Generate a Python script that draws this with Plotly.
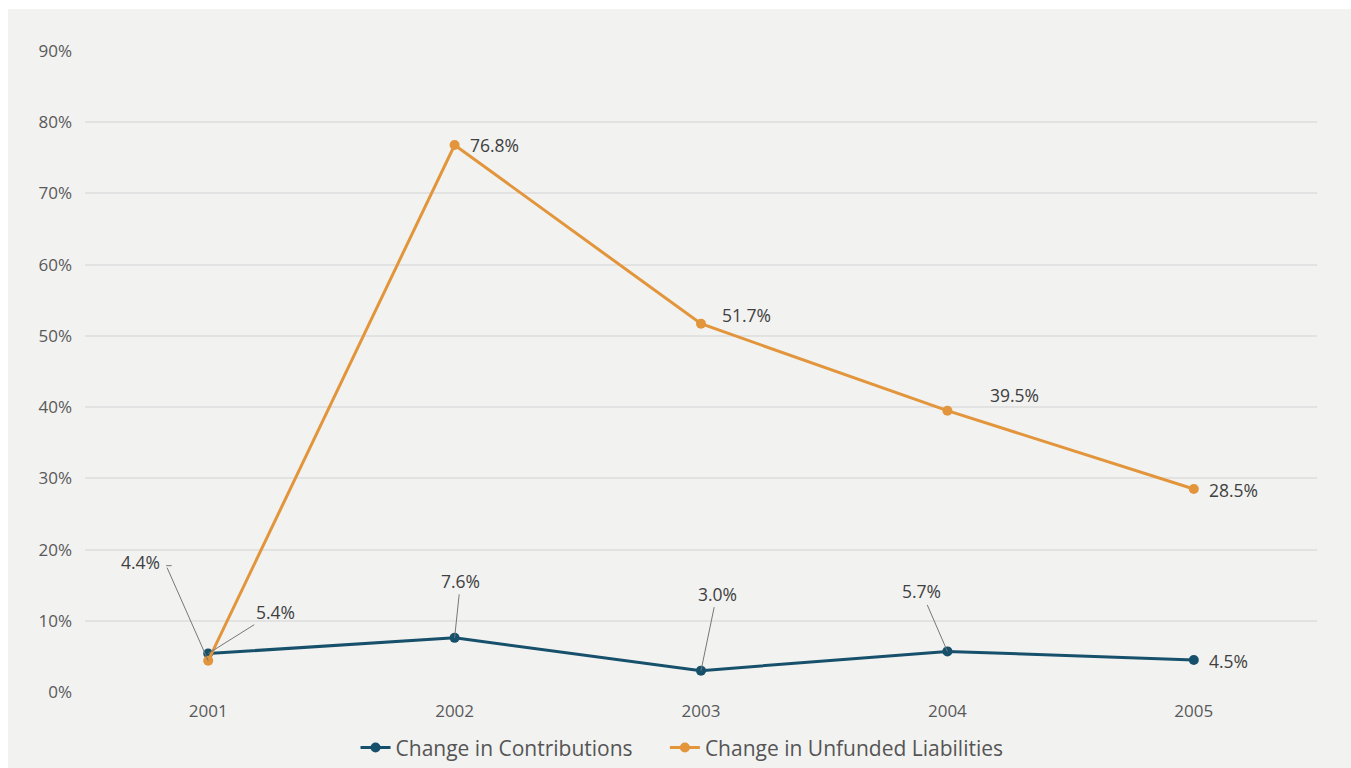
import plotly.graph_objects as go

years = ["2001", "2002", "2003", "2004", "2005"]
contributions = [5.4, 7.6, 3.0, 5.7, 4.5]
unfunded = [4.4, 76.8, 51.7, 39.5, 28.5]
y_ticks = [0, 10, 20, 30, 40, 50, 60, 70, 80, 90]
y_tick_labels = [f"{v}%" for v in y_ticks]
series_names = ["Change in Contributions", "Change in Unfunded Liabilities"]

BLUE = "#17506b"
ORANGE = "#e2953b"
BG = "#f2f2f1"
FONT = "'Open Sans', Lato, sans-serif"
GAP = "\u00a0" * 5  # extra spacing between legend entries

fig = go.Figure()
fig.add_trace(go.Scatter(
    x=years, y=contributions, name=series_names[0] + GAP,
    mode="lines+markers", line=dict(color=BLUE, width=3),
    marker=dict(size=10, color=BLUE), cliponaxis=False))
fig.add_trace(go.Scatter(
    x=years, y=unfunded, name=series_names[1],
    mode="lines+markers", line=dict(color=ORANGE, width=3),
    marker=dict(size=10, color=ORANGE), cliponaxis=False))

lab_font = dict(family=FONT, size=17.5, color="#404040")
LEAD = "#777777"

# labels to the right / above-right without leaders (xshift, yshift in px)
plain = [
    (1, unfunded[1], 13, 0),
    (2, unfunded[2], 19, 9),
    (3, unfunded[3], 41, 16),
    (4, unfunded[4], 13, -1),
    (4, contributions[4], 13, -1),
]
for i, v, xs, ys in plain:
    fig.add_annotation(x=i, y=v, xref="x", yref="y", text=f"{v:.1f}%",
                       showarrow=False, xanchor="left", yanchor="middle",
                       xshift=xs, yshift=ys, font=lab_font)

# labels with leader lines (ax, ay in px)
leaders = [
    (0, contributions[0], 67, -42),
    (1, contributions[1], 6, -57),
    (2, contributions[2], 16, -77),
    (3, contributions[3], -26, -60),
]
for i, v, ax, ay in leaders:
    fig.add_annotation(x=i, y=v, xref="x", yref="y", text=f"{v:.1f}%",
                       showarrow=True, arrowhead=0, arrowwidth=1,
                       arrowcolor=LEAD, ax=ax, ay=ay, font=lab_font, standoff=0)

# 4.4% with elbow leader
fig.add_annotation(x=0, y=unfunded[0], xref="x", yref="y", text=" ",
                   showarrow=True, arrowhead=0, arrowwidth=1,
                   arrowcolor=LEAD, ax=-42, ay=-95, font=dict(size=1))
fig.add_annotation(x=0, y=unfunded[0], xref="x", yref="y", text=" ",
                   showarrow=True, arrowhead=0, arrowwidth=1,
                   arrowcolor=LEAD, xshift=-42, yshift=95, ax=7, ay=0,
                   font=dict(size=1))
fig.add_annotation(x=0, y=unfunded[0], xref="x", yref="y",
                   text=f"{unfunded[0]:.1f}%", showarrow=False,
                   xanchor="right", yanchor="middle",
                   xshift=-46, yshift=99, font=lab_font)

# gray panel background
fig.add_shape(type="rect", xref="paper", yref="paper",
              x0=-0.0625, x1=1.2, y0=-0.3, y1=1.0655,
              fillcolor=BG, line=dict(width=0), layer="below")

fig.update_layout(
    width=1351, height=768,
    margin=dict(l=85, r=34, t=51, b=76, autoexpand=False),
    paper_bgcolor="white", plot_bgcolor=BG,
    font=dict(family=FONT, color="#595959"),
    showlegend=True,
    legend=dict(orientation="h", x=0.4846, xanchor="center", y=-0.087,
                yanchor="middle",
                font=dict(family=FONT, size=21, color="#555555", weight=500),
                bgcolor="rgba(0,0,0,0)", itemwidth=30),
    xaxis=dict(type="category", range=[-0.5, 4.5], showgrid=False,
               showline=False, zeroline=False, ticks="", automargin=False,
               tickfont=dict(size=17, color="#595959"), ticklabelstandoff=7),
    yaxis=dict(range=[0, 90], tickvals=y_ticks, ticktext=y_tick_labels,
               showgrid=True, gridcolor="#e2e2e2", gridwidth=1.5,
               zeroline=False, showline=False, ticks="", automargin=False,
               tickfont=dict(size=17, color="#595959"), ticklabelstandoff=12),
)

fig.write_html("out.html")
